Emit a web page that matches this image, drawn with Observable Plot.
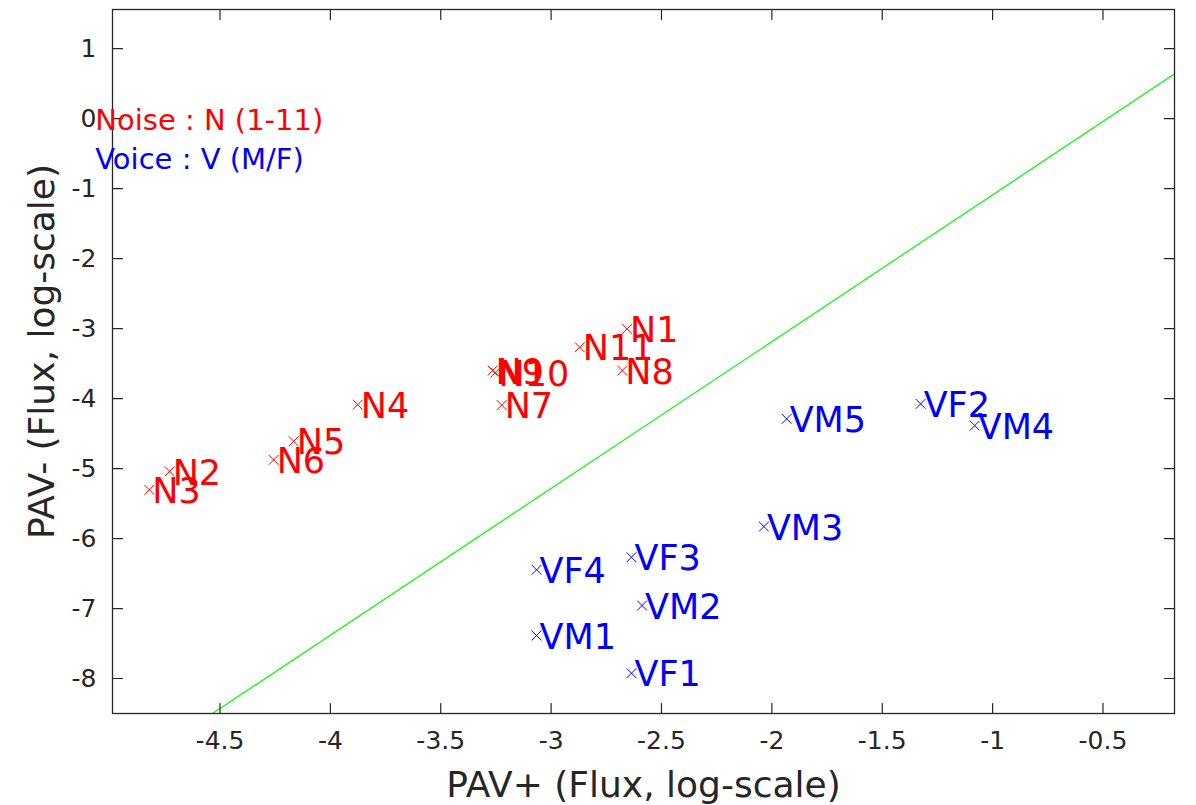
<!DOCTYPE html>
<html>
<head>
<meta charset="utf-8">
<script src="https://cdn.jsdelivr.net/npm/d3@7"></script>
<script src="https://cdn.jsdelivr.net/npm/@observablehq/plot@0.6"></script>
<style>
  html, body { margin: 0; padding: 0; background: #fff; overflow: hidden; }
  #chart svg { display: block; }
</style>
</head>
<body>
<div id="chart"></div>
<script>
// ---- data ----
const noiseLabels = ["N1","N2","N3","N4","N5","N6","N7","N8","N9","N10","N11"];
const noiseX = [-2.656, -4.728, -4.820, -3.876, -4.166, -4.257, -3.224, -2.678, -3.265, -3.252, -2.870];
const noiseY = [-3.004, -5.039, -5.304, -4.086, -4.610, -4.876, -4.093, -3.600, -3.600, -3.630, -3.267];

const voiceLabels = ["VF1","VF2","VF3","VF4","VM1","VM2","VM3","VM4","VM5"];
const voiceX = [-2.636, -1.326, -2.636, -3.066, -3.066, -2.588, -2.036, -1.081, -1.933];
const voiceY = [-7.924, -4.076, -6.267, -6.447, -7.386, -6.957, -5.829, -4.386, -4.290];

// green reference line end points
const guideX = [-4.534, -0.176];
const guideY = [-8.50, 0.639];

// legend annotation
const legendLabels = ["Noise : N (1-11)", "Voice : V (M/F)"];
const legendX = [-5.065, -5.065];
const legendY = [-0.03, -0.586];
const legendColors = ["#ff0000", "#0000ff"];

const xTicks = [-4.5, -4, -3.5, -3, -2.5, -2, -1.5, -1, -0.5];
const yTicks = [1, 0, -1, -2, -3, -4, -5, -6, -7, -8];
const xDomain = [-4.987, -0.176];
const yDomain = [-8.50, 1.56];
const xTitle = "PAV+ (Flux, log-scale)";
const yTitle = "PAV- (Flux, log-scale)";

// ---- tables ----
const noise = noiseLabels.map((t, i) => ({label: t, x: noiseX[i], y: noiseY[i]}));
const voice = voiceLabels.map((t, i) => ({label: t, x: voiceX[i], y: voiceY[i]}));
const guide = guideX.map((x, i) => ({x, y: guideY[i]}));
const legend = legendLabels.map((t, i) => ({label: t, x: legendX[i], y: legendY[i], c: legendColors[i]}));

const axisColor = "#262626";
const tickShape = { draw(context, l) { context.moveTo(0, 0); context.lineTo(0, -l); } };
const tickOpts = {shape: tickShape, length: 10, anchor: "start", stroke: axisColor, strokeWidth: 1.2};

const chart = Plot.plot({
  width: 1196,
  height: 805,
  marginLeft: 112,
  marginRight: 22,
  marginTop: 9,
  marginBottom: 92,
  style: {fontFamily: "'DejaVu Sans', sans-serif", background: "#fff", overflow: "visible"},
  x: {domain: xDomain},
  y: {domain: yDomain},
  marks: [
    Plot.line(guide, {x: "x", y: "y", stroke: "#00ff00", strokeWidth: 1.2, clip: true}),
    Plot.dot(noise, {x: "x", y: "y", symbol: "times", r: 4.5, stroke: "#ff0000", strokeWidth: 1}),
    Plot.text(noise, {x: "x", y: "y", text: "label", textAnchor: "start", lineAnchor: "middle", dx: 3, dy: 2, fontSize: 35, fill: "#ff0000"}),
    Plot.dot(voice, {x: "x", y: "y", symbol: "times", r: 4.5, stroke: "#0000ff", strokeWidth: 1}),
    Plot.text(voice, {x: "x", y: "y", text: "label", textAnchor: "start", lineAnchor: "middle", dx: 3, dy: 2, fontSize: 35, fill: "#0000ff"}),
    Plot.frame({stroke: axisColor, strokeWidth: 1.3}),
    Plot.vectorX(xTicks, {x: d => d, frameAnchor: "bottom", rotate: 0, ...tickOpts}),
    Plot.vectorX(xTicks, {x: d => d, frameAnchor: "top", rotate: 180, ...tickOpts}),
    Plot.vectorY(yTicks, {y: d => d, frameAnchor: "left", rotate: 90, ...tickOpts}),
    Plot.vectorY(yTicks, {y: d => d, frameAnchor: "right", rotate: -90, ...tickOpts}),
    Plot.axisX({ticks: xTicks, tickSize: 0, tickPadding: 18, fontSize: 25, color: axisColor, tickFormat: d => String(d), label: null}),
    Plot.axisY({ticks: yTicks, tickSize: 0, tickPadding: 16, fontSize: 25, color: axisColor, tickFormat: d => String(d), label: null}),
    Plot.text(legend, {x: "x", y: "y", text: "label", fill: "c", textAnchor: "start", lineAnchor: "middle", fontSize: 29}),
    Plot.text([xTitle], {frameAnchor: "bottom", textAnchor: "middle", lineAnchor: "middle", dy: 72, fontSize: 36, fill: axisColor}),
    Plot.text([yTitle], {frameAnchor: "left", textAnchor: "middle", lineAnchor: "middle", rotate: -90, dx: -70, dy: -10, fontSize: 36, fill: axisColor})
  ]
});
document.getElementById("chart").appendChild(chart);
</script>
</body>
</html>
